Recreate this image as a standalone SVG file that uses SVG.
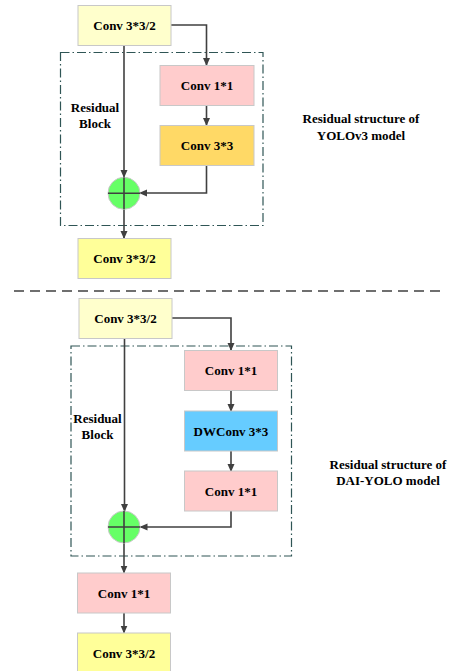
<svg xmlns="http://www.w3.org/2000/svg" width="454" height="671" viewBox="0 0 454 671">
<style>
.box{stroke:#c8c8c8;stroke-width:1}
.y1{fill:#ffffcc}.y2{fill:#ffff99}.pk{fill:#ffcccc}.or{fill:#ffd966}.bl{fill:#66ccff}
.t{font-family:"Liberation Serif","Times New Roman",serif;font-weight:bold;font-size:13px;fill:#000;text-anchor:middle;dominant-baseline:central}
.c{fill:none;stroke:#404040;stroke-width:1.6}
.blk{fill:none;stroke:#2f5555;stroke-width:1.2;stroke-dasharray:9 3 1.5 3}
.sum{fill:#66ff66;stroke:#c8c8c8;stroke-width:1}
</style>
<defs>
<marker id="ah" markerWidth="8" markerHeight="8" refX="7" refY="4" orient="auto" markerUnits="userSpaceOnUse">
<path d="M0,0.5 L8,4 L0,7.5 Z" fill="#404040"/>
</marker>
</defs>
<rect class="blk" x="60.5" y="52.5" width="202.5" height="173"/>
<rect class="blk" x="71" y="346" width="220.5" height="210"/>
<line x1="14" y1="291" x2="443" y2="291" stroke="#404040" stroke-width="1.5" stroke-dasharray="10 6"/>
<g id="connectors">
<path class="c" d="M124,45 V177" marker-end="url(#ah)"/>
<path class="c" d="M124,209 V238" marker-end="url(#ah)"/>
<path class="c" d="M171,25 H206.5 V65" marker-end="url(#ah)"/>
<path class="c" d="M206.5,105 V125" marker-end="url(#ah)"/>
<path class="c" d="M206.5,165 V193 H140" marker-end="url(#ah)"/>
<path class="c" d="M124.5,338 V511" marker-end="url(#ah)"/>
<path class="c" d="M124,543 V572.5" marker-end="url(#ah)"/>
<path class="c" d="M172,318 H231 V350" marker-end="url(#ah)"/>
<path class="c" d="M231,390 V411" marker-end="url(#ah)"/>
<path class="c" d="M231,451 V471" marker-end="url(#ah)"/>
<path class="c" d="M231,511 V527 H140.5" marker-end="url(#ah)"/>
<path class="c" d="M124,613 V632.5" marker-end="url(#ah)"/>
</g>
<g id="top_in"><rect class="box y1" x="78" y="5.5" width="93" height="40"/><text class="t" x="124.5" y="25.5">Conv 3*3/2</text></g>
<g id="top_c11"><rect class="box pk" x="160" y="65.5" width="94" height="40"/><text class="t" x="207" y="85.5">Conv 1*1</text></g>
<g id="top_c33"><rect class="box or" x="160" y="125.5" width="94" height="40"/><text class="t" x="207" y="145.5">Conv 3*3</text></g>
<g id="top_sum"><circle class="sum" cx="124" cy="193.3" r="16"/><path d="M108,193.3 H140 M124,177.3 V209.3" stroke="#404040" stroke-width="1.6"/></g>
<g id="top_out"><rect class="box y2" x="78" y="238.5" width="93" height="40"/><text class="t" x="124.5" y="258.5">Conv 3*3/2</text></g>
<g id="top_label"><text class="t" x="95" y="107">Residual</text><text class="t" x="95" y="123">Block</text></g>
<g id="top_title"><text class="t" x="361" y="118">Residual structure of</text><text class="t" x="361" y="135">YOLOv3 model</text></g>
<g id="bot_in"><rect class="box y1" x="79" y="298.5" width="93" height="40"/><text class="t" x="125.5" y="318.5">Conv 3*3/2</text></g>
<g id="bot_c11a"><rect class="box pk" x="184.5" y="350.5" width="93" height="40"/><text class="t" x="231" y="370.5">Conv 1*1</text></g>
<g id="bot_dw"><rect class="box bl" x="184.5" y="411" width="93" height="40"/><text class="t" x="231" y="431">DWConv 3*3</text></g>
<g id="bot_c11b"><rect class="box pk" x="184.5" y="471" width="93" height="40"/><text class="t" x="231" y="491">Conv 1*1</text></g>
<g id="bot_sum"><circle class="sum" cx="124" cy="527" r="16"/><path d="M108,527 H140 M124,511 V543" stroke="#404040" stroke-width="1.6"/></g>
<g id="bot_c11c"><rect class="box pk" x="77.5" y="573" width="93" height="40"/><text class="t" x="124" y="593">Conv 1*1</text></g>
<g id="bot_out"><rect class="box y2" x="77.5" y="633" width="93" height="40"/><text class="t" x="124" y="653">Conv 3*3/2</text></g>
<g id="bot_label"><text class="t" x="97.5" y="418">Residual</text><text class="t" x="97.5" y="434">Block</text></g>
<g id="bot_title"><text class="t" x="388" y="464">Residual structure of</text><text class="t" x="388" y="480">DAI-YOLO model</text></g>
</svg>
